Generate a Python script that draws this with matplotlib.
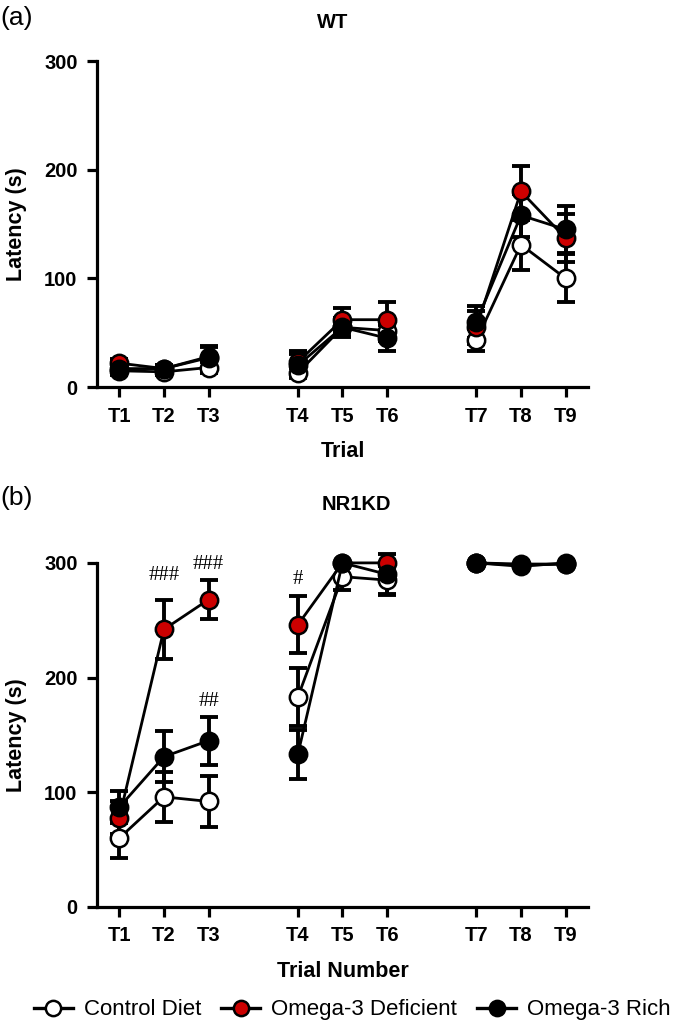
import matplotlib
matplotlib.use("Agg")
import matplotlib.pyplot as plt
from matplotlib.lines import Line2D

plt.rcParams["font.family"] = ["Liberation Sans", "DejaVu Sans"]

# posiciones de los ensayos (huecos entre bloques)
x_pos = [1, 2, 3, 5, 6, 7, 9, 10, 11]
trials = ["T1", "T2", "T3", "T4", "T5", "T6", "T7", "T8", "T9"]
blocks = [(0, 3), (3, 6), (6, 9)]  # cada bloque de 3 ensayos se une con línea
groups = ["Control Diet", "Omega-3 Deficient", "Omega-3 Rich"]

# WT
wt_control = [15, 14, 18, 13, 55, 52, 43, 131, 100]
wt_control_err = [4, 3, 5, 5, 8, 10, 10, 23, 22]
wt_deficient = [22, 17, 28, 23, 62, 62, 55, 180, 137]
wt_deficient_err = [4, 3, 10, 10, 11, 16, 15, 23, 22]
wt_rich = [17, 17, 27, 20, 55, 45, 60, 158, 145]
wt_rich_err = [4, 3, 10, 10, 9, 12, 15, 20, 22]

# NR1KD
kd_control = [60, 96, 92, 183, 288, 285, 300, 297, 300]
kd_control_err = [17, 22, 22, 25, 12, 12, 0, 0, 0]
kd_deficient = [78, 242, 268, 246, 300, 300, 300, 298, 299]
kd_deficient_err = [14, 26, 17, 25, 0, 0, 0, 0, 0]
kd_rich = [87, 131, 145, 133, 300, 290, 300, 299, 299]
kd_rich_err = [14, 22, 21, 21, 0, 18, 0, 0, 0]

# anotaciones de significancia (x, y, texto)
kd_marks_x = [2, 3, 3, 5]
kd_marks_y = [281, 290, 171, 277]
kd_marks_txt = ["###", "###", "##", "#"]

facecolors = ["white", "#cc0000", "black"]

fig = plt.figure(figsize=(6.75, 10.24), dpi=100)
ax_a = fig.add_axes([0.1437, 0.622, 0.7273, 0.3184])
ax_b = fig.add_axes([0.1437, 0.1143, 0.7273, 0.336])


def panel(ax, series, xlabel):
    for (y, e), fc in zip(series, facecolors):
        ax.errorbar(x_pos, y, yerr=e, fmt="none", ecolor="black",
                    elinewidth=2.8, capsize=6.5, capthick=2.8, clip_on=False, zorder=2)
        for i0, i1 in blocks:
            ax.plot(x_pos[i0:i1], y[i0:i1], "-o", color="black", lw=2, ms=12.5,
                    mfc=fc, mec="black", mew=1.8, clip_on=False, zorder=3)
    ax.set_xlim(0.5, 11.5)
    ax.set_ylim(0, 300)
    ax.set_yticks([0, 100, 200, 300])
    ax.set_xticks(x_pos)
    ax.set_xticklabels(trials)
    for s in ["top", "right"]:
        ax.spines[s].set_visible(False)
    for s in ["left", "bottom"]:
        ax.spines[s].set_linewidth(2.3)
    ax.tick_params(axis="x", width=2.3, length=7, labelsize=14.5, pad=7)
    ax.tick_params(axis="y", width=2.3, length=7, labelsize=14.5, pad=7)
    for lab in ax.get_xticklabels() + ax.get_yticklabels():
        lab.set_fontweight("bold")
    ax.set_ylabel("Latency (s)", fontsize=15.5, fontweight="bold", labelpad=12)
    ax.set_xlabel(xlabel, fontsize=15.5, fontweight="bold", labelpad=11)


panel(ax_a, [(wt_control, wt_control_err), (wt_deficient, wt_deficient_err),
             (wt_rich, wt_rich_err)], "Trial")
panel(ax_b, [(kd_control, kd_control_err), (kd_deficient, kd_deficient_err),
             (kd_rich, kd_rich_err)], "Trial Number")

for x, y, t in zip(kd_marks_x, kd_marks_y, kd_marks_txt):
    ax_b.text(x, y, t, ha="center", va="bottom", fontsize=15,
              family=["Liberation Serif", "DejaVu Serif"])

fig.text(333 / 675, 1 - 23 / 1024, "WT", fontsize=14.5, fontweight="bold",
         ha="center", va="center")
fig.text(356 / 675, 1 - 505 / 1024, "NR1KD", fontsize=14.5, fontweight="bold",
         ha="center", va="center")
fig.text(0.0, 0.982, "(a)", fontsize=19, ha="left", va="center")
fig.text(0.0, 0.514, "(b)", fontsize=19, ha="left", va="center")

handles = [Line2D([], [], color="black", lw=2.4, marker="o", ms=11, mfc=fc,
                  mec="black", mew=1.8) for fc in facecolors]
fig.legend(handles, groups, loc="center", bbox_to_anchor=(0.522, 0.0137), ncol=3,
           frameon=False, fontsize=16, handlelength=1.75, handletextpad=0.5,
           columnspacing=0.9, borderpad=0, borderaxespad=0)

fig.savefig("out.png", dpi=100)
